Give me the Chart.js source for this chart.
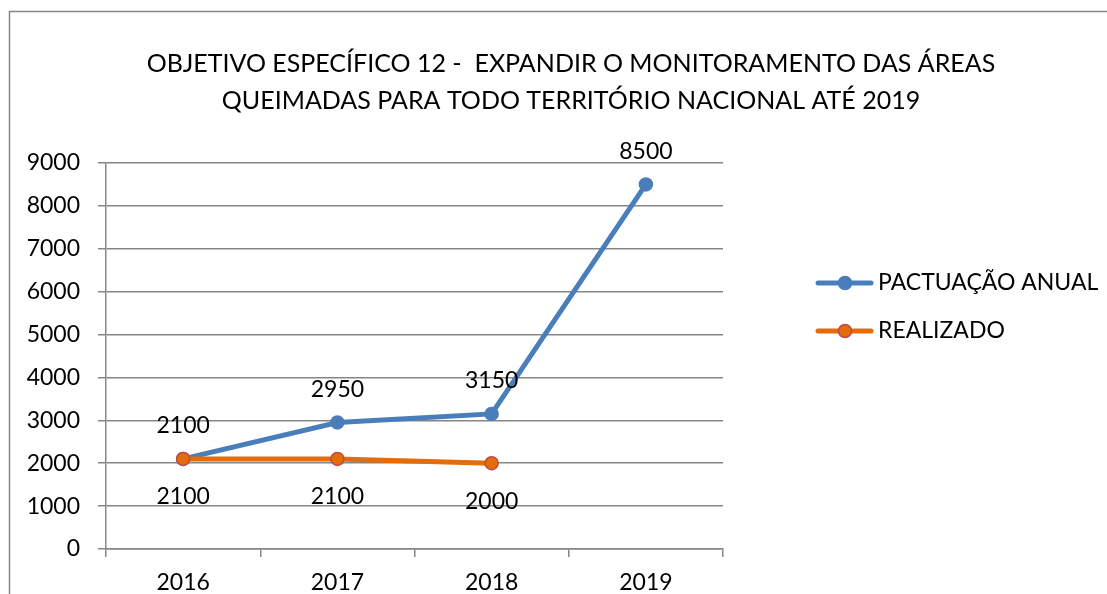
<!DOCTYPE html>
<html>
<head>
<meta charset="utf-8">
<script src="https://cdn.jsdelivr.net/npm/chart.js@4/dist/chart.umd.min.js"></script>
<style>
  html, body { margin: 0; padding: 0; background: #fff; overflow: hidden; }
  #wrap { position: absolute; left: 0; top: 0; width: 1142px; height: 594px; }
</style>
</head>
<body>
<div id="wrap"><canvas id="mainChart"></canvas></div>
<script>
const years = ['2016', '2017', '2018', '2019'];
const pactuacao = [2100, 2950, 3150, 8500];
const realizado = [2100, 2100, 2000, null];
const titleLines = ['OBJETIVO ESPECÍFICO 12 -  EXPANDIR O MONITORAMENTO DAS ÁREAS', 'QUEIMADAS PARA TODO TERRITÓRIO NACIONAL ATÉ 2019'];

const FONT = 'Lato';
const GRID = '#868686';
const BLUE = '#4a7ebb';
const ORANGE = '#e46c0a';

// frame, value labels and the legend drawn on the canvas
const decorPlugin = {
    id: 'decor',
    beforeDraw(chart) {
        const ctx = chart.ctx;
        ctx.save();
        ctx.strokeStyle = GRID;
        ctx.lineWidth = 1.5;
        ctx.beginPath();
        ctx.moveTo(9.5, 700);
        ctx.lineTo(9.5, 11.5);
        ctx.lineTo(1200, 11.5);
        ctx.stroke();
        ctx.restore();
    },
    afterDatasetsDraw(chart) {
        const ctx = chart.ctx;
        ctx.save();
        ctx.font = '23px ' + FONT;
        ctx.fillStyle = '#000';
        ctx.textAlign = 'center';
        ctx.textBaseline = 'middle';
        chart.data.datasets.forEach((ds, i) => {
            const meta = chart.getDatasetMeta(i);
            meta.data.forEach((pt, j) => {
                const v = ds.data[j];
                if (v === null || v === undefined) return;
                ctx.fillText(String(v), pt.x, pt.y + ds.labelShift);
            });
        });
        ctx.restore();
    },
    afterDraw(chart) {
        const ctx = chart.ctx;
        ctx.save();
        chart.data.datasets.forEach((ds, i) => {
            const y = 283 + i * 48;
            ctx.strokeStyle = ds.borderColor;
            ctx.lineWidth = 5;
            ctx.lineCap = 'round';
            ctx.beginPath();
            ctx.moveTo(818, y);
            ctx.lineTo(871, y);
            ctx.stroke();
            ctx.beginPath();
            ctx.arc(845, y, 6.5, 0, Math.PI * 2);
            ctx.fillStyle = ds.pointBackgroundColor;
            ctx.fill();
            ctx.lineWidth = 1.5;
            ctx.strokeStyle = ds.pointBorderColor;
            ctx.stroke();
            ctx.font = '23px ' + FONT;
            ctx.fillStyle = '#000';
            ctx.textAlign = 'left';
            ctx.textBaseline = 'middle';
            ctx.fillText(ds.label, 878, y);
        });
        ctx.restore();
    }
};

function initChart() {
    const ctx = document.getElementById('mainChart').getContext('2d');
    Chart.defaults.font.family = FONT;
    Chart.defaults.color = '#000';
    new Chart(ctx, {
        type: 'line',
        data: {
            labels: years,
            datasets: [
                { label: 'PACTUAÇÃO ANUAL', data: pactuacao, borderColor: BLUE, backgroundColor: BLUE,
                  pointBackgroundColor: BLUE, pointBorderColor: BLUE, borderWidth: 5, pointRadius: 6.5,
                  pointBorderWidth: 1.5, order: 2, labelShift: -33 },
                { label: 'REALIZADO', data: realizado, borderColor: ORANGE, backgroundColor: ORANGE,
                  pointBackgroundColor: ORANGE, pointBorderColor: '#be4b48', borderWidth: 5, pointRadius: 6.5,
                  pointBorderWidth: 1.5, order: 1, labelShift: 38 }
            ]
        },
        options: {
            responsive: true, maintainAspectRatio: false, animation: false,
            layout: { padding: 0 },
            plugins: {
                legend: { display: false },
                tooltip: { enabled: false },
                title: {
                    display: true, text: titleLines, color: '#000',
                    font: { size: 25, weight: 'normal', lineHeight: 1.48 },
                    padding: { top: 45.5, bottom: 43.5 }
                }
            },
            scales: {
                x: {
                    offset: true,
                    grid: { offset: true, drawOnChartArea: false, tickLength: 8, color: GRID, lineWidth: 1.5 },
                    border: { color: GRID, width: 1.5 },
                    ticks: { font: { size: 23 }, padding: 12, color: '#000' },
                    afterFit(scale) { scale.height = 45; }
                },
                y: {
                    min: 0, max: 9000,
                    ticks: { stepSize: 1000, font: { size: 23 }, padding: 18, color: '#000', callback: v => String(v) },
                    grid: { tickLength: 8, color: GRID, lineWidth: 1.5 },
                    border: { color: GRID, width: 1.5 },
                    afterFit(scale) { scale.width = 106; }
                },
                // empty right-hand box that keeps room for the legend
                legendSpace: {
                    type: 'linear', position: 'right', display: true,
                    grid: { display: false, drawTicks: false },
                    border: { display: false },
                    ticks: { display: false },
                    afterFit(scale) { scale.width = 1142 - 723; }
                }
            }
        },
        plugins: [decorPlugin]
    });
}

initChart();
</script>
</body>
</html>
